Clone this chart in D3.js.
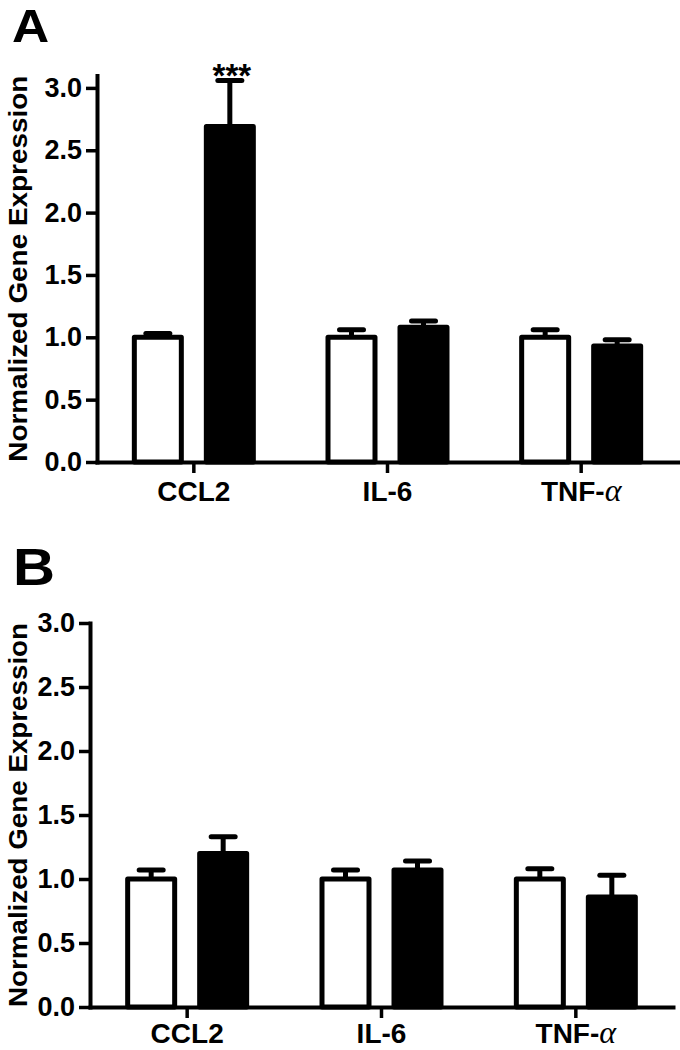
<!DOCTYPE html>
<html>
<head>
<meta charset="utf-8">
<script src="https://cdn.jsdelivr.net/npm/d3@7"></script>
<style>
  html, body { margin: 0; padding: 0; background: #fff; }
  svg { display: block; }
  text { font-family: "Liberation Sans", Arial, sans-serif; font-weight: bold; fill: #000; }
</style>
</head>
<body>
<svg id="chart" width="680" height="1050"></svg>
<script>
// ---------- data ----------
const categories = ["CCL2", "IL-6", "TNF-α"];
const yTickValues = [0, 0.5, 1.0, 1.5, 2.0, 2.5, 3.0];
const yLabel = "Normalized Gene Expression";

const panelA_control    = [1.00, 1.00, 1.00];
const panelA_controlErr = [0.03, 0.06, 0.06];
const panelA_treated    = [2.69, 1.08, 0.93];
const panelA_treatedErr = [0.37, 0.05, 0.05];
const panelA_signif     = ["", "***", "", "", "", ""]; // per bar: ctrl, treated for each category

const panelB_control    = [1.00, 1.00, 1.00];
const panelB_controlErr = [0.07, 0.07, 0.08];
const panelB_treated    = [1.20, 1.07, 0.86];
const panelB_treatedErr = [0.13, 0.07, 0.17];
const panelB_signif     = ["", "", "", "", "", ""];

const svg = d3.select("#chart");

function drawPanel(cfg) {
  const g = svg.append("g");
  const y = d3.scaleLinear().domain([0, cfg.yMax]).range([cfg.y0, cfg.y0 - cfg.yMax * cfg.pxPerUnit]);
  const x = d3.scaleBand().domain(categories).range([cfg.left, cfg.left + cfg.width]);
  const sub = d3.scaleOrdinal().domain(["control", "treated"]).range([-36, 36]);

  // panel letter
  g.append("text")
    .attr("transform", `translate(${cfg.letterX},${cfg.letterY}) scale(1.12,1)`)
    .style("font-size", cfg.letterSize + "px").text(cfg.letter);

  // bars data
  const bars = [];
  categories.forEach((c, i) => {
    bars.push({ cat: c, grp: "control", v: cfg.control[i], e: cfg.controlErr[i], sig: cfg.signif[i * 2] });
    bars.push({ cat: c, grp: "treated", v: cfg.treated[i], e: cfg.treatedErr[i], sig: cfg.signif[i * 2 + 1] });
  });
  const cx = d => x(d.cat) + x.bandwidth() / 2 + sub(d.grp);
  const bw = 47;

  g.selectAll("rect.bar").data(bars).join("rect")
    .attr("class", "bar")
    .attr("x", d => cx(d) - bw / 2)
    .attr("width", bw)
    .attr("y", d => y(d.v))
    .attr("height", d => y(0) - y(d.v))
    .attr("fill", d => d.grp === "control" ? "#fff" : "#000")
    .attr("stroke", "#000").attr("stroke-width", 5).attr("stroke-linejoin", "round");

  // error stems
  g.selectAll("line.stem").data(bars).join("line")
    .attr("x1", cx).attr("x2", cx)
    .attr("y1", d => y(d.v)).attr("y2", d => y(d.v + d.e))
    .attr("stroke", "#000").attr("stroke-width", 5);
  // caps
  g.selectAll("line.cap").data(bars).join("line")
    .attr("x1", d => cx(d) - 12).attr("x2", d => cx(d) + 12)
    .attr("y1", d => y(d.v + d.e)).attr("y2", d => y(d.v + d.e))
    .attr("stroke", "#000").attr("stroke-width", 5).attr("stroke-linecap", "round");

  // significance
  g.selectAll("text.sig").data(bars.filter(d => d.sig)).join("text")
    .attr("x", d => cx(d) + 2).attr("y", d => y(d.v + d.e) + 6.5)
    .attr("text-anchor", "middle").style("font-size", "33px").text(d => d.sig);

  // y axis
  const yAxis = g.append("g").attr("transform", `translate(${cfg.left},0)`)
    .call(d3.axisLeft(y).tickValues(yTickValues).tickFormat(d3.format(".1f")).tickSize(11).tickSizeOuter(0).tickPadding(4));
  yAxis.select(".domain").attr("stroke-width", 4).attr("stroke-linecap", "square");
  yAxis.selectAll(".tick line").attr("stroke-width", 3.5);
  yAxis.selectAll(".tick text").style("font-size", "27px").style("font-family", "Liberation Sans, Arial, sans-serif")
    .attr("font-family", null).attr("font-weight", "bold");

  // x axis
  const xAxis = g.append("g").attr("transform", `translate(0,${cfg.y0})`)
    .call(d3.axisBottom(x).tickSize(11).tickSizeOuter(0).tickFormat(() => ""));
  xAxis.select(".domain").attr("stroke-width", 4).attr("stroke-linecap", "square");
  xAxis.selectAll(".tick line").attr("stroke-width", 3.5);

  // category labels (alpha in symbol-like serif)
  const lab = g.selectAll("text.cat").data(categories).join("text")
    .attr("class", "cat")
    .attr("x", d => x(d) + x.bandwidth() / 2)
    .attr("y", cfg.y0 + cfg.catDy)
    .attr("text-anchor", "middle").style("font-size", "28px");
  lab.each(function(d) {
    const t = d3.select(this);
    if (d.endsWith("α")) {
      t.append("tspan").text(d.slice(0, -1));
      t.append("tspan").text("α").style("font-family", "'Liberation Serif', 'DejaVu Serif', serif")
        .style("font-weight", "normal").style("font-style", "italic").style("font-size", "32px");
    } else {
      t.text(d);
    }
  });

  // y label
  g.append("text")
    .attr("transform", `translate(${cfg.labelX},${(y(0) + y(cfg.yMax)) / 2}) rotate(-90)`)
    .attr("text-anchor", "middle").style("font-size", "26px")
    .attr("textLength", cfg.labelLen).attr("lengthAdjust", "spacingAndGlyphs")
    .text(yLabel);
}

drawPanel({
  letter: "A", letterX: 12, letterY: 42, letterSize: 46,
  left: 97, width: 581, y0: 462, pxPerUnit: 124.7, yMax: 3.1,
  control: panelA_control, controlErr: panelA_controlErr,
  treated: panelA_treated, treatedErr: panelA_treatedErr, signif: panelA_signif,
  catDy: 39, labelX: 27, labelLen: 386
});

drawPanel({
  letter: "B", letterX: 13, letterY: 585, letterSize: 52,
  left: 90, width: 583, y0: 1007, pxPerUnit: 128, yMax: 3.0,
  control: panelB_control, controlErr: panelB_controlErr,
  treated: panelB_treated, treatedErr: panelB_treatedErr, signif: panelB_signif,
  catDy: 36, labelX: 27, labelLen: 384
});
</script>
</body>
</html>
